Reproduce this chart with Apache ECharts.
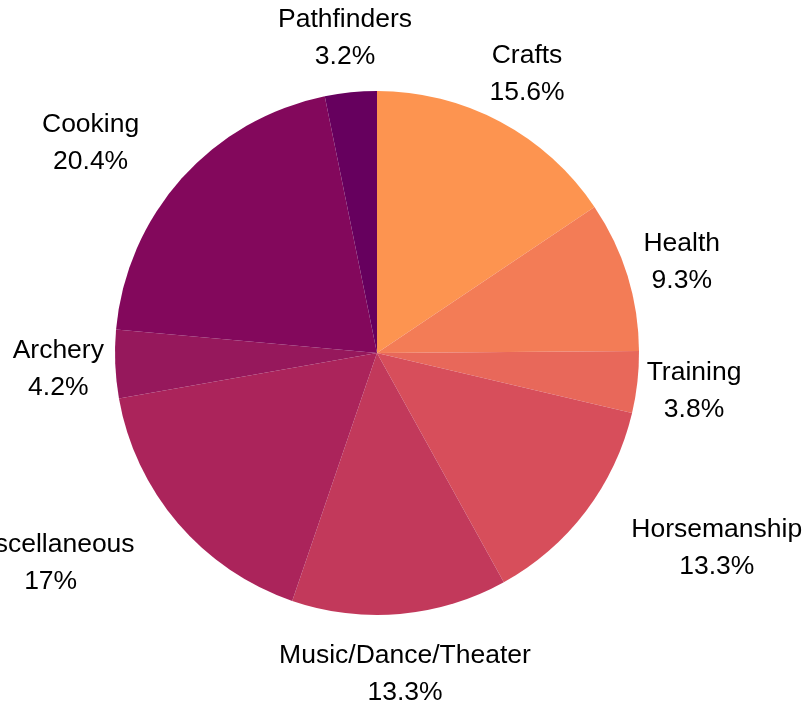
<!DOCTYPE html>
<html lang="en">
<head>
  <meta charset="UTF-8">
  <title>Pie</title>
  <script src="https://cdn.jsdelivr.net/npm/echarts@6/dist/echarts.min.js"></script>
  <style>
    html, body { margin: 0; padding: 0; background: #fff; }
  </style>
</head>
<body>
  <div id="chart" style="width: 806px;height: 704px;"></div>
<script>
  var categories = ['Crafts', 'Health', 'Training', 'Horsemanship', 'Music/Dance/Theater', 'Miscellaneous', 'Archery', 'Cooking', 'Pathfinders']
  var values = [15.6, 9.3, 3.8, 13.3, 13.3, 17, 4.2, 20.4, 3.2]
  var colors = ['#fd9450', '#f37c56', '#e8685a', '#d74e5b', '#c2395b', '#ab245b', '#96185c', '#83085c', '#66005e']

  var cx = 377, cy = 353, R = 262

  var chart = echarts.init(document.getElementById('chart'))

  var data = categories.map(function (name, i) {
    return { name: name, value: values[i], itemStyle: { color: colors[i] } }
  })

  // second, invisible ring only carries the labels, centred on their slice angle
  var labelData = categories.map(function (name, i) {
    return { name: name, value: values[i] }
  })

  var option = {
    animation: false,
    series: [
      {
        type: 'pie',
        center: [cx, cy],
        radius: [0, R],
        startAngle: 90,
        clockwise: true,
        silent: true,
        label: { show: false },
        labelLine: { show: false },
        data: data
      },
      {
        type: 'pie',
        center: [cx, cy],
        radius: [298, 334],
        startAngle: 90,
        clockwise: true,
        silent: true,
        itemStyle: { color: 'rgba(0,0,0,0)' },
        label: {
          show: true,
          position: 'inside',
          formatter: '{b}\n{c}%',
          color: '#000',
          fontFamily: 'Liberation Sans',
          fontSize: 26.5,
          lineHeight: 37,
          align: 'center'
        },
        labelLine: { show: false },
        // if a centred label would touch the pie, align it by its inner edge instead
        labelLayout: function (params) {
          var r = params.labelRect
          var nx = Math.max(r.x, Math.min(cx, r.x + r.width))
          var ny = Math.max(r.y, Math.min(cy, r.y + r.height))
          if ((nx - cx) * (nx - cx) + (ny - cy) * (ny - cy) >= R * R) return { dy: 3 }
          var side = r.x + r.width / 2 > cx ? 1 : -1
          return { dx: side * r.width / 2, dy: 3 }
        },
        data: labelData
      }
    ]
  }
  chart.setOption(option)
</script>
</body>
</html>
